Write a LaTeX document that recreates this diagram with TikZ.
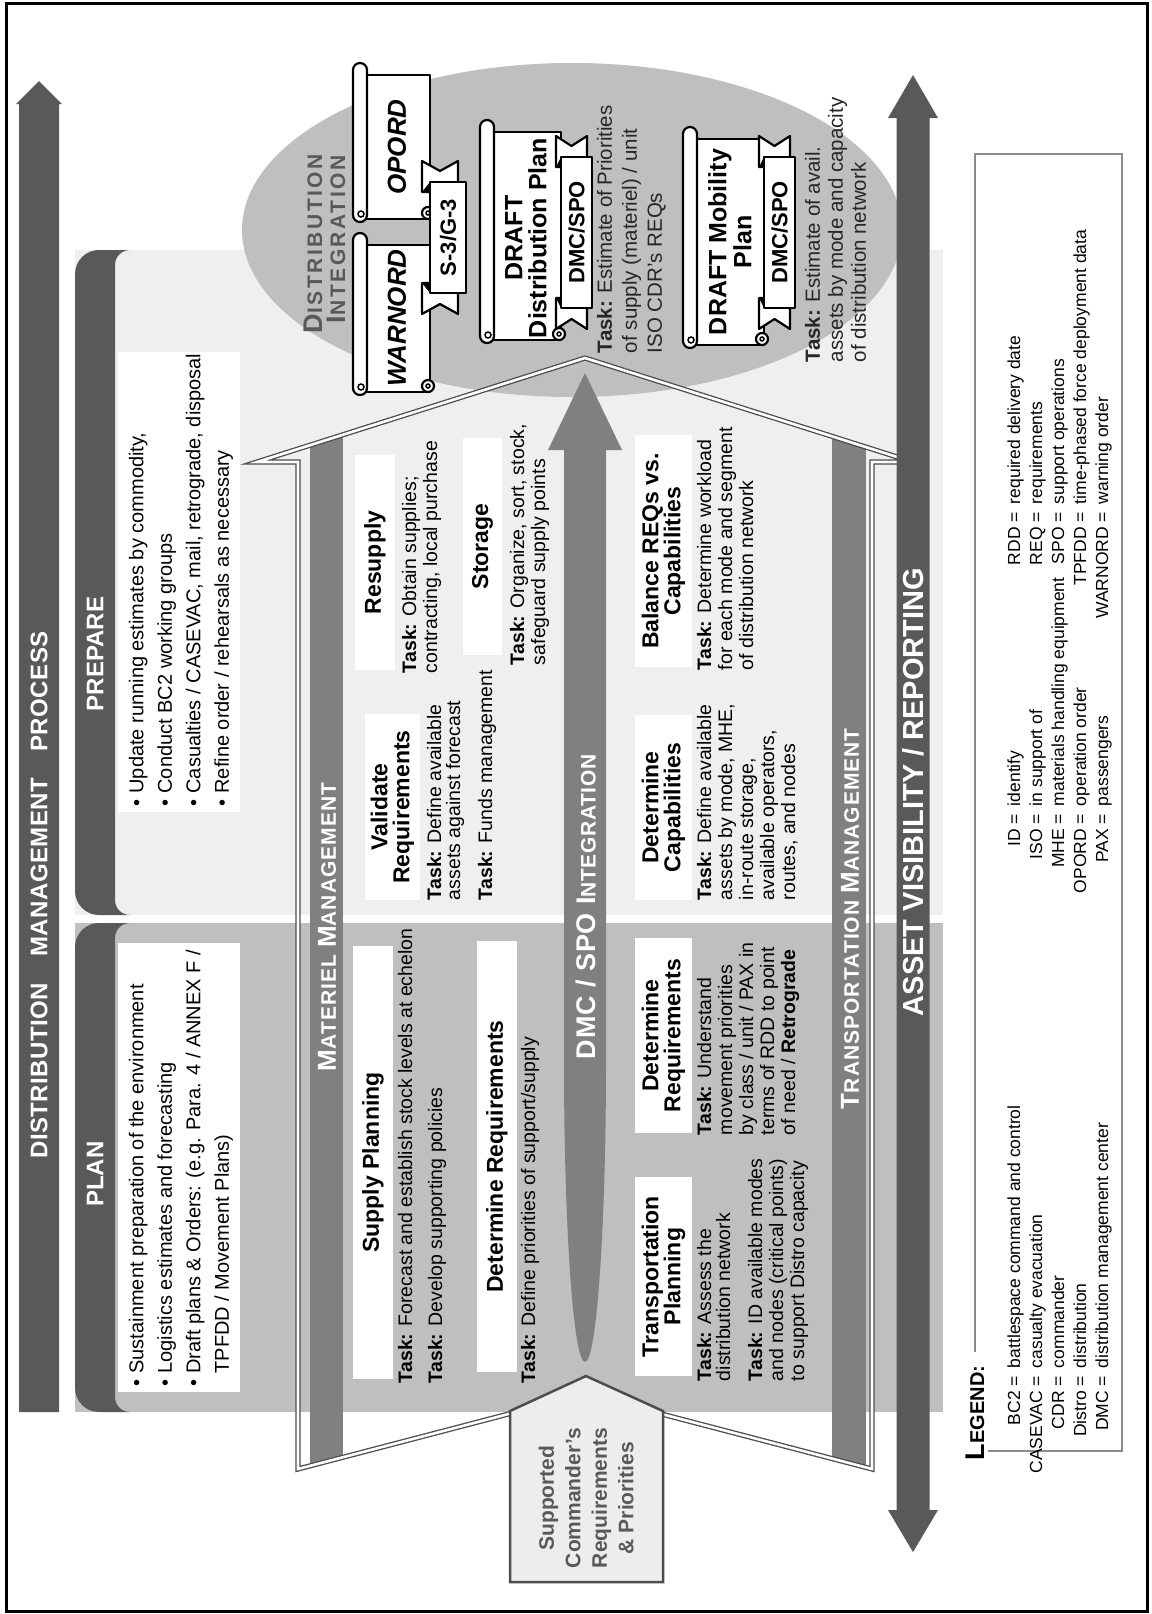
\documentclass[tikz,border=0pt]{standalone}
\usepackage{fontspec}
\setmainfont{Liberation Sans}
\definecolor{dkbar}{HTML}{595959}
\definecolor{midbar}{HTML}{808080}
\definecolor{planbg}{HTML}{BFBFBF}
\definecolor{prepbg}{HTML}{EFEFEF}
\definecolor{ellbg}{HTML}{BFBFBF}
\definecolor{outl}{HTML}{4D4D4D}
\definecolor{dktext}{HTML}{595959}
\definecolor{lgline}{HTML}{8C8C8C}
\definecolor{supbg}{HTML}{EDEDED}
\newcommand{\fsz}[2]{\fontsize{#1}{#2}\selectfont}
% scroll: left X, right X, top Y, bottom Y (landscape, Y downward)
\newcommand{\drawscroll}[4]{%
  \filldraw[scrl] (#1+3,-#3-7) rectangle (#2-12,-#4);
  \filldraw[scrl] (#1+7,-#3) -- (#2-7,-#3) arc[start angle=90,end angle=-90,radius=7] -- (#1+7,-#3-14) arc[start angle=270,end angle=90,radius=7] -- cycle;
  \draw[line width=1.5pt] (#1+8,-#3-8) circle[radius=3];
  \filldraw[scrl] (#1+9,-#4+2) circle[radius=6];
  \draw[line width=1.5pt] (#1+9,-#4+2) circle[radius=2];
}
% ribbon: left X, right X, top Y, bottom Y, tail offset
\newcommand{\drawribbon}[5]{%
  \filldraw[scrl] (#1-21,-#3+#5) -- (#1+10,-#3+#5) -- (#1+10,-#4+#5) -- (#1-21,-#4+#5) -- (#1-11,{-(#3+#4)/2+#5}) -- cycle;
  \filldraw[scrl] (#2+21,-#3+#5) -- (#2-10,-#3+#5) -- (#2-10,-#4+#5) -- (#2+21,-#4+#5) -- (#2+11,{-(#3+#4)/2+#5}) -- cycle;
  \fill[black] (#1,-#3) -- (#1+10,-#3+#5) -- (#1+10,-#3) -- cycle;
  \fill[black] (#2,-#3) -- (#2-10,-#3+#5) -- (#2-10,-#3) -- cycle;
  \filldraw[scrl] (#1,-#3) rectangle (#2,-#4);
}
% header band: x0, x1
\newcommand{\headband}[2]{%
  \fill[dkbar] (#1,-130) -- (#1,-99) arc[start angle=180,end angle=90,radius=24] -- (#2-24,-75) arc[start angle=90,end angle=0,radius=24] -- (#2,-130) arc[start angle=0,end angle=90,radius=15] -- (#1+15,-115) arc[start angle=90,end angle=180,radius=15] -- cycle;
}
\begin{document}
\begin{tikzpicture}[x=1pt,y=1pt,
  every node/.style={inner sep=0pt,outer sep=0pt},
  tbox/.style={fill=white,align=center,font=\bfseries\fsz{23}{22}},
  tasktxt/.style={anchor=north west,align=left,font=\fsz{19.5}{21}},
  bultxt/.style={anchor=north west,align=left,font=\fsz{20}{28.5}},
  hdrtxt/.style={text=white,font=\bfseries\fsz{24}{24}},
  bartxt/.style={text=white,anchor=west,font=\bfseries},
  scrl/.style={fill=white,draw=black,line width=2.2pt,line join=round},
  lgdtxt/.style={font=\fsz{17.5}{22}},
  chev/.style={draw=outl,line width=1.3pt,double=white,double distance=2.6pt,line join=miter}]
\useasboundingbox (0,0) rectangle (1151,-1614);
\fill[white] (0,0) rectangle (1151,-1614);
\draw[line width=3pt] (6,-3) rectangle (1147,-1611);
\begin{scope}[shift={(0,-1614)},rotate=90,transform shape]
% ---------- title arrow ----------
\fill[dkbar] (202,-19) -- (1510,-19) -- (1510,-16) -- (1533,-39) -- (1510,-62) -- (1510,-59) -- (202,-59) -- cycle;
\node[text=white,font=\bfseries\fsz{24}{24}] (title) at (719,-39) {\addfontfeature{LetterSpace=2}DISTRIBUTION\hspace{26pt}MANAGEMENT\hspace{26pt}PROCESS};
% ---------- panels ----------
\fill[planbg] (202,-75) rectangle (691,-943);
\fill[prepbg] (699,-75) rectangle (1364,-943);
\headband{202}{691}
\headband{699}{1364}
\node[hdrtxt] (plan) at (440,-95) {PLAN};
\node[hdrtxt] (prepare) at (960,-95) {PREPARE};
\fill[white] (222,-118) rectangle (671,-240);
\fill[white] (802,-118) rectangle (1262,-240);
\node[bultxt] (planbul) at (228,-129) {\textbullet\ Sustainment preparation of the environment\\
\textbullet\ Logistics estimates and forecasting\\
\textbullet\ Draft plans \& Orders: (e.g. Para. 4 / ANNEX F /\\
\phantom{\textbullet\ }TPFDD / Movement Plans)};
\node[bultxt] (prepbul) at (808,-129) {\textbullet\ Update running estimates by commodity,\\
\textbullet\ Conduct BC2 working groups\\
\textbullet\ Casualties / CASEVAC, mail, retrograde, disposal\\
\textbullet\ Refine order / rehearsals as necessary};
% ---------- distribution integration ellipse ----------
\fill[ellbg] (1384,-572) ellipse[x radius=167,y radius=330];
% ---------- bars inside chevron ----------
\begin{scope}
\clip (145,-298) -- (1152,-298) -- (1152,-257) -- (1256,-585) -- (1152,-913) -- (1152,-872) -- (145,-872) -- (220,-585) -- cycle;
\fill[midbar] (100,-310) rectangle (1300,-343);
\fill[midbar] (100,-832) rectangle (1300,-866);
\end{scope}
% DMC/SPO arrow
\fill[midbar] (1164,-564) -- (1164,-548) -- (1241,-585) -- (1164,-622) -- (1164,-606) -- (552,-606) arc[start angle=270,end angle=90,x radius=300,y radius=21] -- cycle;
% chevron outline
\draw[chev] (145,-298) -- (1152,-298) -- (1152,-257) -- (1256,-585) -- (1152,-913) -- (1152,-872) -- (145,-872) -- (220,-585) -- cycle;
% asset visibility double arrow
\fill[dkbar] (104,-896.5) -- (1496,-896.5) -- (1496,-888) -- (1539,-913) -- (1496,-938) -- (1496,-929.5) -- (104,-929.5) -- (104,-938) -- (62,-913) -- (104,-888) -- cycle;
% supported box
\filldraw[fill=supbg,draw=outl,line width=2.5pt,line join=miter] (32,-510) -- (203,-510) -- (238,-586) -- (203,-663) -- (32,-663) -- cycle;
\node[align=center,text=dktext,font=\bfseries\fsz{21}{26.5}] (supp) at (116,-586) {Supported\\Commander’s\\Requirements\\\& Priorities};
% bar labels
\node[bartxt] (matl) at (543,-327) {\addfontfeature{LetterSpace=5}\fsz{26}{26}M\fsz{21}{21}ATERIEL \fsz{26}{26}M\fsz{21}{21}ANAGEMENT};
\node[bartxt] (dmcl) at (555,-586) {\addfontfeature{LetterSpace=3}\fsz{27}{27}DMC / SPO I\fsz{21}{21}NTEGRATION};
\node[bartxt] (tranl) at (505,-850) {\addfontfeature{LetterSpace=5}\fsz{26}{26}T\fsz{21}{21}RANSPORTATION \fsz{26}{26}M\fsz{21}{21}ANAGEMENT};
\node[bartxt] (assetl) at (598,-913) {\fsz{29}{29}ASSET VISIBILITY / REPORTING};
% ---------- materiel management tasks ----------
\node[tbox,minimum width=433,minimum height=40] (supplan) at (451.5,-373) {Supply Planning};
\node[tasktxt] (supt1) at (231,-398) {\textbf{Task:} Forecast and establish stock levels at echelon};
\node[tasktxt] (supt2) at (231,-428) {\textbf{Task:} Develop supporting policies};
\node[tbox,minimum width=431,minimum height=40] (detreq) at (457.5,-497) {Determine Requirements};
\node[tasktxt] (detreqt) at (231,-521) {\textbf{Task:} Define priorities of support/supply};
\node[tbox,minimum width=186,minimum height=55] (valreq) at (807,-392.5) {Validate\\Requirements};
\node[tasktxt,font=\fsz{19.5}{19}] (valt1) at (714,-427) {\textbf{Task:} Define available\\assets against forecast};
\node[tasktxt] (valt2) at (714,-478) {\textbf{Task:} Funds management};
\node[tbox,minimum width=215,minimum height=40] (resup) at (1051.5,-375) {Resupply};
\node[tasktxt] (resupt) at (941,-402) {\textbf{Task:} Obtain supplies;\\contracting, local purchase};
\node[tbox,minimum width=217,minimum height=39] (stor) at (1067.5,-482.5) {Storage};
\node[tasktxt] (stort) at (949,-510) {\textbf{Task:} Organize, sort, stock,\\safeguard supply points};
% ---------- transportation tasks ----------
\node[tbox,minimum width=199,minimum height=57] (tplan) at (337.5,-663.5) {Transportation\\Planning};
\node[tasktxt,font=\fsz{19.5}{19}] (tplant1) at (233,-697) {\textbf{Task:} Assess the\\distribution network};
\node[tasktxt] (tplant2) at (233,-748) {\textbf{Task:} ID available modes\\and nodes (critical points)\\to support Distro capacity};
\node[tbox,minimum width=195,minimum height=57] (tdetreq) at (578.5,-663.5) {Determine\\Requirements};
\node[tasktxt] (tdetreqt) at (479,-697) {\textbf{Task:} Understand\\movement priorities\\by class / unit / PAX in\\terms of RDD to point\\of need / \textbf{Retrograde}};
\node[tbox,minimum width=185,minimum height=57] (detcap) at (806.5,-663.5) {Determine\\Capabilities};
\node[tasktxt] (detcapt) at (714,-697) {\textbf{Task:} Define available\\assets by mode, MHE,\\in-route storage,\\available operators,\\routes, and nodes};
\node[tbox,minimum width=232,minimum height=57] (bal) at (1063,-663.5) {Balance REQs vs.\\Capabilities};
\node[tasktxt] (balt) at (944,-697) {\textbf{Task:} Determine workload\\for each mode and segment\\of distribution network};
% ---------- distribution integration content ----------
\node[anchor=west,text=dktext,font=\bfseries] (distl) at (1281,-313) {\addfontfeature{LetterSpace=12}\fsz{27}{27}D\fsz{21}{21}ISTRIBUTION};
\node[anchor=west,text=dktext,font=\bfseries] (intl) at (1291,-336) {\addfontfeature{LetterSpace=12}\fsz{27}{27}I\fsz{21}{21}NTEGRATION};
\drawscroll{1219}{1381}{353}{430}
\drawscroll{1392}{1551}{353}{430}
\node[font=\bfseries\itshape\fsz{26}{26}] (warnord) at (1296,-397) {WARNORD};
\node[font=\bfseries\itshape\fsz{26}{26}] (opord) at (1467,-397) {OPORD};
\drawribbon{1321}{1432}{430}{466}{8}
\node[font=\bfseries\fsz{22}{22}] (s3g3) at (1376.5,-448) {S-3/G-3};
\drawscroll{1271}{1494}{480}{561}
\node[align=center,font=\bfseries\fsz{25}{24}] (ddp) at (1376,-526) {DRAFT\\Distribution Plan};
\drawribbon{1306}{1457}{561}{592}{5}
\node[font=\bfseries\fsz{22}{22}] (dmc1) at (1381.5,-576.5) {DMC/SPO};
\node[tasktxt,text=black!85,font=\fsz{20.5}{25}] (ddpt) at (1261,-597) {\textbf{Task:} Estimate of Priorities\\of supply (materiel) / unit\\ISO CDR’s REQs};
\drawscroll{1266}{1487}{683}{764}
\node[align=center,font=\bfseries\fsz{25}{25}] (dmp) at (1372,-730) {DRAFT Mobility\\Plan};
\drawribbon{1306}{1457}{764}{795}{5}
\node[font=\bfseries\fsz{22}{22}] (dmc2) at (1381.5,-779.5) {DMC/SPO};
\node[tasktxt,text=black!85,font=\fsz{20.5}{23}] (dmpt) at (1252,-805) {\textbf{Task:} Estimate of avail.\\assets by mode and capacity\\of distribution network};
% ---------- legend ----------
\draw[lgline,line width=1.5pt] (262,-975) -- (1460,-975) -- (1460,-1122) -- (163,-1122) -- (163,-988);
\node[anchor=base west,font=\bfseries] (legend) at (154,-984) {\fsz{27}{27}L\fsz{20}{20}EGEND:};
\foreach \lab/\val [count=\i] in {BC2/battlespace command and control,CASEVAC/casualty evacuation,CDR/commander,Distro/distribution,DMC/distribution management center} {
  \node[lgdtxt,anchor=base east] (la\i) at (238,{-1020-22*(\i-1)}) {\lab\ =};
  \node[lgdtxt,anchor=base west] (lva\i) at (246,{-1020-22*(\i-1)}) {\val};
}
\foreach \lab/\val [count=\i] in {ID/identify,ISO/in support of,MHE/materials handling equipment,OPORD/operation order,PAX/passengers} {
  \node[lgdtxt,anchor=base east] (lb\i) at (800,{-1020-22*(\i-1)}) {\lab\ =};
  \node[lgdtxt,anchor=base west] (lvb\i) at (808,{-1020-22*(\i-1)}) {\val};
}
\foreach \lab/\val [count=\i] in {RDD/required delivery date,REQ/requirements,SPO/support operations,TPFDD/time-phased force deployment data,WARNORD/warning order} {
  \node[lgdtxt,anchor=base east] (lc\i) at (1102,{-1020-22*(\i-1)}) {\lab\ =};
  \node[lgdtxt,anchor=base west] (lvc\i) at (1110,{-1020-22*(\i-1)}) {\val};
}
\end{scope}
\end{tikzpicture}
\end{document}
